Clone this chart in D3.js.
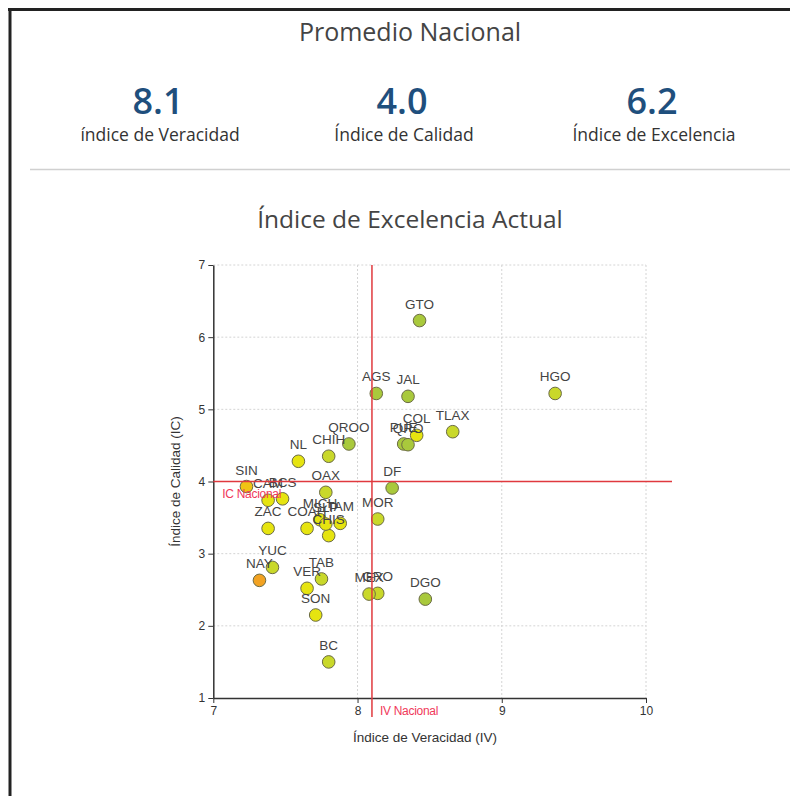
<!DOCTYPE html>
<html lang="es">
<head>
<meta charset="utf-8">
<script src="https://cdn.jsdelivr.net/npm/d3@7"></script>
<style>
  html, body { margin: 0; padding: 0; background: #fff; }
  svg { display: block; }
</style>
</head>
<body>
<svg id="chart" width="790" height="796"></svg>
<script>
// National averages shown in the header
const summaryLabels = ["índice de Veracidad", "Índice de Calidad", "Índice de Excelencia"];
const summaryValues = [8.1, 4.0, 6.2];

// State indices: veracity (IV) on x, quality (IC) on y
const states = ["AGS","BC","BCS","CAM","COAH","COL","CHIS","CHIH","DF","DGO","GTO","GRO","HGO","JAL","MEX","MICH",
                "MOR","NAY","NL","OAX","PUE","QRO","QROO","SLP","SIN","SON","TAB","TAM","TLAX","VER","YUC","ZAC"];
const ivValues = [8.13,7.80,7.48,7.38,7.65,8.41,7.80,7.80,8.24,8.47,8.43,8.14,9.37,8.35,8.08,7.74,
                  8.14,7.32,7.59,7.78,8.32,8.35,7.94,7.78,7.23,7.71,7.75,7.88,8.66,7.65,7.41,7.38];
const icValues = [5.22,1.50,3.76,3.74,3.35,4.64,3.25,4.35,3.91,2.37,6.23,2.45,5.22,5.18,2.44,3.47,
                  3.48,2.63,4.28,3.85,4.52,4.51,4.52,3.41,3.93,2.15,2.65,3.42,4.69,2.52,2.81,3.35];
// Excellence band of each state (drives the marker colour)
const bands = ["alto","medio","bajo","bajo","bajo","bajo","bajo","medio","alto","alto","alto","medio","medio","alto","medio","bajo",
               "medio","muy bajo","bajo","medio","alto","alto","alto","bajo","bajo-medio","bajo","medio","bajo","medio","bajo","medio","bajo"];

const xTicks = [7, 8, 9, 10];
const yTicks = [1, 2, 3, 4, 5, 6, 7];
const ivNacional = 8.1;
const icNacional = 4.0;

const svg = d3.select("#chart");

// Page frame
svg.append("line").attr("x1", 8).attr("x2", 790).attr("y1", 9.5).attr("y2", 9.5)
  .attr("stroke", "#222").attr("stroke-width", 3);
svg.append("line").attr("x1", 10).attr("x2", 10).attr("y1", 8).attr("y2", 796)
  .attr("stroke", "#222").attr("stroke-width", 3);

// Header
svg.append("text").attr("x", 410).attr("y", 41).attr("text-anchor", "middle")
  .attr("font-family", "'Open Sans', sans-serif").attr("font-size", 25).attr("fill", "#444")
  .text("Promedio Nacional");

const summaryX = [158, 402, 652];
summaryValues.forEach((v, i) => {
  svg.append("text").attr("x", summaryX[i]).attr("y", 114).attr("text-anchor", "middle")
    .attr("font-family", "'Open Sans', sans-serif").attr("font-size", 36).attr("font-weight", 600)
    .attr("fill", "#1f4f7d").text(v.toFixed(1));
  svg.append("text").attr("x", summaryX[i] + 2).attr("y", 141).attr("text-anchor", "middle")
    .attr("font-family", "'Open Sans', sans-serif").attr("font-size", 17.5).attr("fill", "#333")
    .text(summaryLabels[i]);
});

svg.append("line").attr("x1", 30).attr("x2", 790).attr("y1", 169.5).attr("y2", 169.5)
  .attr("stroke", "#d0d0d0").attr("stroke-width", 1.5);

svg.append("text").attr("x", 410).attr("y", 228).attr("text-anchor", "middle")
  .attr("font-family", "'Open Sans', sans-serif").attr("font-size", 24.5).attr("fill", "#444")
  .text("Índice de Excelencia Actual");

// Scatter plot
const x = d3.scaleLinear().domain([7, 10]).range([213.3, 646]);
const y = d3.scaleLinear().domain([1, 7]).range([698, 265]);
const color = d3.scaleOrdinal()
  .domain(["alto", "medio", "bajo", "bajo-medio", "muy bajo"])
  .range(["#a9c93c", "#c9d82a", "#e6e410", "#f0c414", "#f2a222"]);

const grid = svg.append("g").attr("stroke", "#d4d4d4").attr("stroke-dasharray", "2,2").attr("stroke-width", 1);
xTicks.slice(1).forEach(t => {
  grid.append("line").attr("x1", x(t)).attr("x2", x(t)).attr("y1", y(7)).attr("y2", y(1));
});
yTicks.slice(1).forEach(t => {
  grid.append("line").attr("x1", x(7)).attr("x2", x(10)).attr("y1", y(t)).attr("y2", y(t));
});

const xAxis = svg.append("g").attr("transform", `translate(0,${y(1)})`)
  .call(d3.axisBottom(x).tickValues(xTicks).tickFormat(d3.format("d")).tickSize(5).tickSizeOuter(0));
const yAxis = svg.append("g").attr("transform", `translate(${x(7)},0)`)
  .call(d3.axisLeft(y).tickValues(yTicks).tickFormat(d3.format("d")).tickSize(5).tickSizeOuter(0));
[xAxis, yAxis].forEach(a => {
  a.select(".domain").attr("stroke", "#333").attr("stroke-width", 1.5);
  a.selectAll(".tick line").attr("stroke", "#333");
  a.selectAll(".tick text").attr("font-family", "'Liberation Sans', Arial, sans-serif")
    .attr("font-size", 12).attr("fill", "#333");
});

svg.append("text").attr("x", 425).attr("y", 742).attr("text-anchor", "middle")
  .attr("font-family", "'Liberation Sans', Arial, sans-serif").attr("font-size", 13.5).attr("fill", "#333")
  .text("Índice de Veracidad (IV)");
svg.append("text").attr("transform", `translate(180,${(y(1) + y(7)) / 2}) rotate(-90)`)
  .attr("text-anchor", "middle")
  .attr("font-family", "'Liberation Sans', Arial, sans-serif").attr("font-size", 13.5).attr("fill", "#333")
  .text("Índice de Calidad (IC)");

const pts = states.map((s, i) => ({ name: s, iv: ivValues[i], ic: icValues[i], band: bands[i] }));

svg.append("g").selectAll("circle").data(pts).join("circle")
  .attr("cx", d => x(d.iv)).attr("cy", d => y(d.ic)).attr("r", 6.3)
  .attr("fill", d => color(d.band)).attr("stroke", "#6b6b45").attr("stroke-width", 1);

svg.append("g").selectAll("text").data(pts).join("text")
  .attr("x", d => x(d.iv)).attr("y", d => y(d.ic) - 12).attr("text-anchor", "middle")
  .attr("font-family", "'Liberation Sans', Arial, sans-serif").attr("font-size", 13.5).attr("fill", "#444")
  .text(d => d.name);

// National reference lines
svg.append("line").attr("x1", x(ivNacional)).attr("x2", x(ivNacional)).attr("y1", y(7)).attr("y2", y(1) + 19)
  .attr("stroke", "#e0393e").attr("stroke-width", 1.5);
svg.append("line").attr("x1", x(7)).attr("x2", x(10) + 26).attr("y1", y(icNacional)).attr("y2", y(icNacional))
  .attr("stroke", "#e0393e").attr("stroke-width", 1.5);

svg.append("text").attr("x", x(ivNacional) + 8).attr("y", y(1) + 17)
  .attr("font-family", "'Liberation Sans', Arial, sans-serif")
  .attr("font-size", 12).attr("letter-spacing", -0.3).attr("fill", "#f0395a").text("IV Nacional");
svg.append("text").attr("x", x(7) + 9).attr("y", y(icNacional) + 16)
  .attr("font-family", "'Liberation Sans', Arial, sans-serif")
  .attr("font-size", 12).attr("letter-spacing", -0.3).attr("fill", "#f0395a").text("IC Nacional");
</script>
</body>
</html>
